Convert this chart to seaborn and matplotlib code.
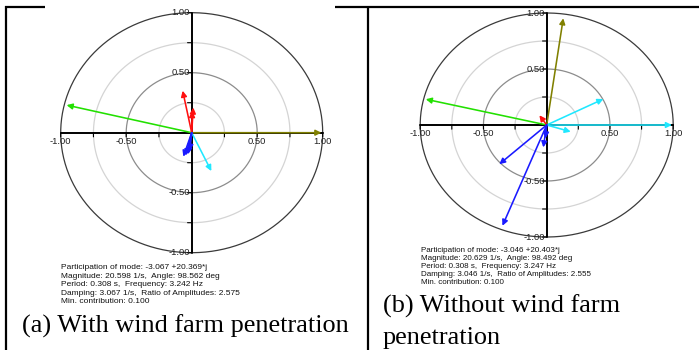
import numpy as np
import pandas as pd
import seaborn as sns
import matplotlib
matplotlib.use("Agg")
import matplotlib.pyplot as plt
from matplotlib.lines import Line2D

sns.set_theme(style="white")
plt.rcParams["font.family"] = ["Liberation Sans", "DejaVu Sans"]

# ---- phasor components (real, imag) per panel -----------------------------
a_green = [(-0.955, 0.23)]
a_olive = [(0.99, 0.0)]
a_red = [(-0.069, 0.35), (0.012, 0.21), (0.004, 0.18)]
a_cyan = [(0.15, -0.32)]
a_blue = [(-0.064, -0.20), (-0.046, -0.19), (-0.028, -0.18), (-0.015, -0.15)]

b_olive = [(0.131, 0.953)]
b_green = [(-0.956, 0.23)]
b_cyan = [(0.99, 0.0), (0.448, 0.232), (0.19, -0.06)]
b_red = [(-0.058, 0.087)]
b_blue = [(-0.375, -0.35), (-0.35, -0.90), (-0.027, -0.20), (-0.01, -0.12)]

ring_radii = [0.25, 0.50, 0.75, 1.00]
ring_colors = ["#d4d4d4", "#8c8c8c", "#d4d4d4", "#3a3a3a"]
tick_vals = [-1.0, -0.5, 0.5, 1.0]
tick_labels = ["-1.00", "-0.50", "0.50", "1.00"]
minor_ticks = [-1.0, -0.75, -0.5, -0.25, 0.25, 0.5, 0.75, 1.0]

info_a = [
    "Participation of mode: -3.067 +20.369*j",
    "Magnitude: 20.598 1/s,  Angle: 98.562 deg",
    "Period: 0.308 s,  Frequency: 3.242 Hz",
    "Damping: 3.067 1/s,  Ratio of Amplitudes: 2.575",
    "Min. contribution: 0.100",
]
info_b = [
    "Participation of mode: -3.046 +20.403*j",
    "Magnitude: 20.629 1/s,  Angle: 98.492 deg",
    "Period: 0.308 s,  Frequency: 3.247 Hz",
    "Damping: 3.046 1/s,  Ratio of Amplitudes: 2.555",
    "Min. contribution: 0.100",
]

COL = {
    "green": "#22e000",
    "olive": "#808000",
    "red": "#ff1010",
    "cyan": "#20e8ff",
    "blue": "#1a1aff",
}

W, H = 699, 350
fig = plt.figure(figsize=(W / 100, H / 100), dpi=100)
fig.patch.set_facecolor("white")


def px_axes(cx, cy, rx, ry):
    """Axes whose [-1, 1] box is centred at pixel (cx, cy) with radii rx, ry."""
    return fig.add_axes([(cx - rx) / W, 1 - (cy + ry) / H, 2 * rx / W, 2 * ry / H])


def phasor_panel(ax, groups):
    ax.set_xlim(-1, 1)
    ax.set_ylim(-1, 1)
    ax.axis("off")
    th = np.linspace(0, 2 * np.pi, 400)
    for r, c in zip(ring_radii, ring_colors):
        ring = pd.DataFrame({"x": r * np.cos(th), "y": r * np.sin(th)})
        sns.lineplot(data=ring, x="x", y="y", sort=False, estimator=None,
                     color=c, lw=0.9, ax=ax, clip_on=False, zorder=1)
    ax.plot([-1, 1], [0, 0], color="black", lw=1.4, zorder=2, clip_on=False)
    ax.plot([0, 0], [-1, 1], color="black", lw=1.4, zorder=2, clip_on=False)
    for t in minor_ticks:
        ax.annotate("", xy=(t, 0), xytext=(0, -3), textcoords="offset points",
                    arrowprops=dict(arrowstyle="-", lw=0.8, color="black",
                                    shrinkA=0, shrinkB=0))
        ax.annotate("", xy=(0, t), xytext=(-3, 0), textcoords="offset points",
                    arrowprops=dict(arrowstyle="-", lw=0.8, color="black",
                                    shrinkA=0, shrinkB=0))
    for v, lab in zip(tick_vals, tick_labels):
        ax.annotate(lab, xy=(v, 0), xytext=(0, -6), textcoords="offset points",
                    ha="center", va="center", fontsize=6.8, color="#222222")
        ax.annotate(lab, xy=(0, v), xytext=(-1.5, 0), textcoords="offset points",
                    ha="right", va="center", fontsize=6.8, color="#222222")
    for name, pts in groups:
        for (x, y) in pts:
            ax.annotate("", xy=(x, y), xytext=(0, 0),
                        arrowprops=dict(arrowstyle="-|>,head_length=0.28,head_width=0.14",
                                        color=COL[name], lw=1.15,
                                        shrinkA=0, shrinkB=0),
                        zorder=3, annotation_clip=False)


ax_a = px_axes(191.7, 132.7, 131, 120)
phasor_panel(ax_a, [("green", a_green), ("olive", a_olive), ("red", a_red),
                    ("cyan", a_cyan), ("blue", a_blue)])

ax_b = px_axes(546.7, 125.0, 126.5, 112)
phasor_panel(ax_b, [("olive", b_olive), ("green", b_green), ("cyan", b_cyan),
                    ("red", b_red), ("blue", b_blue)])

# ---- mode information blocks ----------------------------------------------
for i, line in enumerate(info_a):
    fig.text(60.7 / W, 1 - (267.7 + i * 8.5) / H, line, fontsize=6.0,
             ha="left", va="center", color="#111111")
for i, line in enumerate(info_b):
    fig.text(420.7 / W, 1 - (251.0 + i * 7.9) / H, line, fontsize=5.8,
             ha="left", va="center", color="#111111")

# ---- captions -------------------------------------------------------------
serif = ["Liberation Serif", "DejaVu Serif"]
fig.text(21.7 / W, 1 - 326.7 / H, "(a) With wind farm penetration",
         family=serif, fontsize=18.9, ha="left", va="center", color="black")
fig.text(383 / W, 1 - 306.7 / H, "(b) Without wind farm",
         family=serif, fontsize=18.9, ha="left", va="center", color="black")
fig.text(383 / W, 1 - 338 / H, "penetration",
         family=serif, fontsize=18.9, ha="left", va="center", color="black")

# ---- table frame ----------------------------------------------------------
def frame_line(x0, y0, x1, y1, lw=1.6):
    fig.add_artist(Line2D([x0 / W, x1 / W], [1 - y0 / H, 1 - y1 / H],
                          color="black", lw=lw, solid_capstyle="butt"))


frame_line(5, 6.5, 45, 6.5)
frame_line(335, 6.5, 699, 6.5)
frame_line(5.5, 6, 5.5, 350)
frame_line(367.5, 6, 367.5, 350)

fig.savefig("out.png", dpi=100, facecolor="white")
